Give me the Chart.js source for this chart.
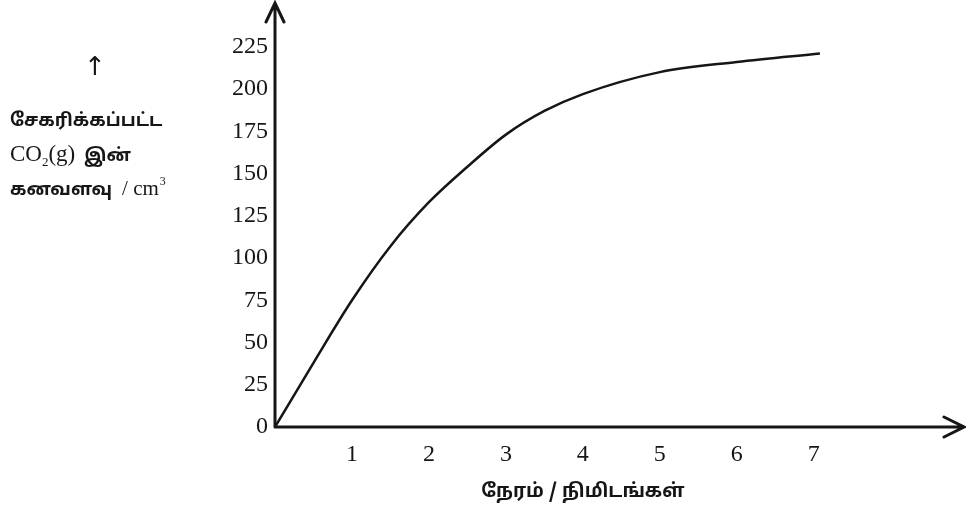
<!DOCTYPE html>
<html>
<head>
<meta charset="utf-8">
<script src="https://cdn.jsdelivr.net/npm/chart.js@4.4.1/dist/chart.umd.min.js"></script>
<style>
  html, body { margin: 0; padding: 0; background: #fff; }
  #wrap { width: 966px; height: 505px; }
</style>
</head>
<body>
<div id="wrap"><canvas id="c" width="966" height="505"></canvas></div>
<script>
const times = [0, 0.5, 1, 1.5, 2, 2.5, 3, 3.5, 4, 5, 6, 7.08];
const volumes = [0, 38, 75, 107, 133, 154, 173, 187, 197, 210, 216, 221];
const xTicks = [1, 2, 3, 4, 5, 6, 7];
const yTicks = [0, 25, 50, 75, 100, 125, 150, 175, 200, 225];
const xTitle = 'நேரம் / நிமிடங்கள்';
const yTitle = ['சேகரிக்கப்பட்ட', 'இன்', 'கனவளவு'];

const ink = '#161616';
const serif = '"Liberation Serif", "Times New Roman", serif';
const tamil = '"Noto Sans Tamil", "Noto Sans", "DejaVu Sans", sans-serif';

const axisDecor = {
    id: 'axisDecor',
    afterDraw: (chart) => {
        const ctx = chart.ctx;
        const area = chart.chartArea;
        const xs = chart.scales.x;
        ctx.save();
        ctx.strokeStyle = ink;
        ctx.lineWidth = 3;
        ctx.lineCap = 'round';
        // extend axes and draw open arrow heads
        ctx.beginPath();
        ctx.moveTo(area.left, area.bottom);
        ctx.lineTo(area.left, 3);
        ctx.moveTo(area.left - 9, 22);
        ctx.lineTo(area.left, 3);
        ctx.lineTo(area.left + 9, 22);
        ctx.moveTo(area.left, area.bottom);
        ctx.lineTo(964, area.bottom);
        ctx.moveTo(944, area.bottom - 10);
        ctx.lineTo(964, area.bottom);
        ctx.lineTo(944, area.bottom + 10);
        ctx.stroke();

        ctx.fillStyle = ink;
        ctx.textBaseline = 'alphabetic';
        // x title
        ctx.textAlign = 'center';
        ctx.font = 'bold 19px ' + tamil;
        ctx.fillText(xTitle, xs.getPixelForValue(4), 497);

        // y title block
        ctx.textAlign = 'left';
        ctx.font = '26px "DejaVu Sans", sans-serif';
        ctx.fillText('↑', 84, 75);
        ctx.font = 'bold 18px ' + tamil;
        ctx.fillText(yTitle[0], 10, 126);

        let x = 10;
        ctx.font = '23px ' + serif;
        ctx.fillText('CO', x, 161);
        x += ctx.measureText('CO').width;
        ctx.font = '13px ' + serif;
        ctx.fillText('2', x, 166);
        x += ctx.measureText('2').width;
        ctx.font = '23px ' + serif;
        ctx.fillText('(g)', x, 161);
        x += ctx.measureText('(g)').width + 9;
        ctx.font = 'bold 18px ' + tamil;
        ctx.fillText(yTitle[1], x, 161);

        x = 10;
        ctx.fillText(yTitle[2], x, 195);
        x += ctx.measureText(yTitle[2]).width + 10;
        ctx.font = '21px ' + serif;
        ctx.fillText('/ cm', x, 195);
        x += ctx.measureText('/ cm').width + 1;
        ctx.font = '12px ' + serif;
        ctx.fillText('3', x, 185);
        ctx.restore();
    }
};

new Chart(document.getElementById('c'), {
    type: 'line',
    data: {
        datasets: [{
            data: times.map((t, i) => ({ x: t, y: volumes[i] })),
            borderColor: ink,
            borderWidth: 2.5,
            pointRadius: 0,
            cubicInterpolationMode: 'monotone',
            fill: false
        }]
    },
    options: {
        responsive: false,
        animation: false,
        layout: { padding: { left: 0, top: 5, right: 6, bottom: 0 } },
        plugins: { legend: { display: false }, tooltip: { enabled: false } },
        scales: {
            x: {
                type: 'linear',
                min: 0,
                max: 8.9,
                afterBuildTicks: (s) => { s.ticks = xTicks.map(v => ({ value: v })); },
                afterFit: (s) => { s.height = 78; },
                grid: { display: false, drawTicks: false },
                border: { display: false },
                ticks: { color: ink, font: { family: serif, size: 24 }, padding: 13, maxRotation: 0 }
            },
            y: {
                min: 0,
                max: 240,
                afterBuildTicks: (s) => { s.ticks = yTicks.map(v => ({ value: v })); },
                afterFit: (s) => { s.width = 275; },
                grid: { display: false, drawTicks: false },
                border: { display: false },
                ticks: { color: ink, font: { family: serif, size: 24 }, padding: 7 }
            }
        }
    },
    plugins: [axisDecor]
});
</script>
</body>
</html>
